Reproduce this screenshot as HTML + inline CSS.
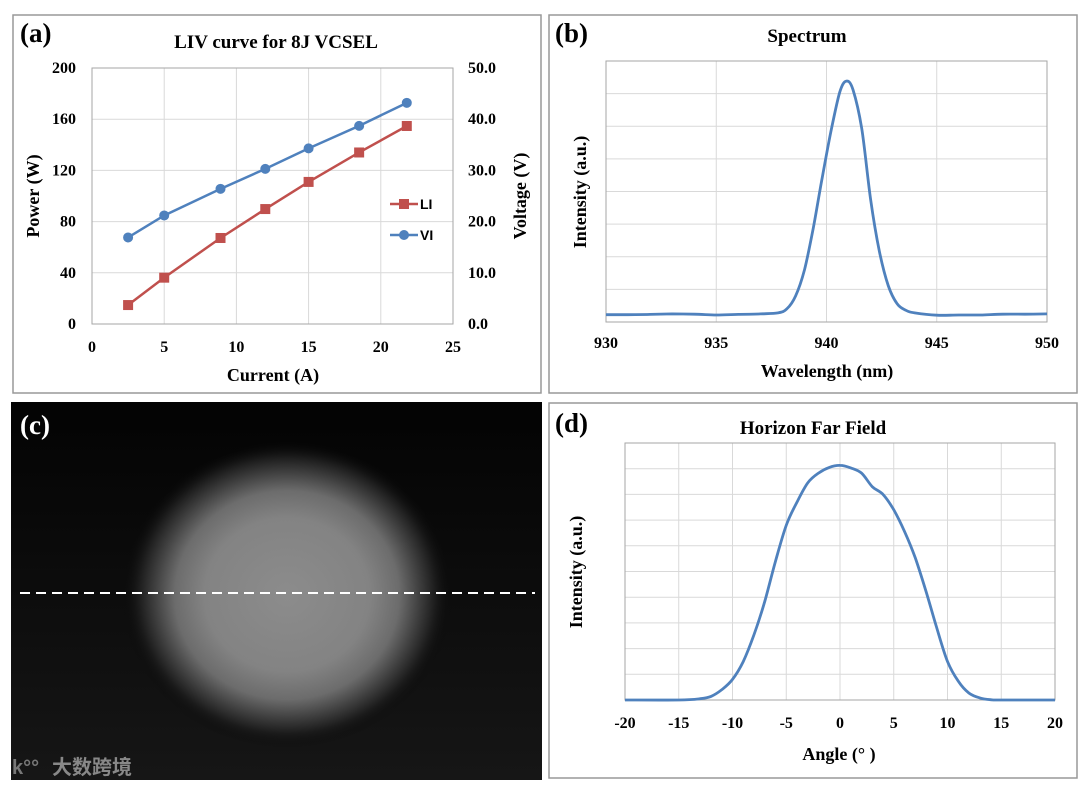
<!DOCTYPE html>
<html><head><meta charset="utf-8"><style>
html,body{margin:0;padding:0;background:#fff;}
svg{display:block;font-family:"Liberation Serif","Noto Serif CJK SC",serif;font-weight:bold;}
</style></head><body>
<svg id="fig" width="1080" height="785" viewBox="0 0 1080 785" xmlns="http://www.w3.org/2000/svg">
<defs>
<radialGradient id="spot" cx="287" cy="595" r="165" gradientUnits="userSpaceOnUse" gradientTransform="translate(287 595) scale(1 0.93) translate(-287 -595)">
<stop offset="0" stop-color="#8c8c8c"/><stop offset="0.5" stop-color="#838383"/><stop offset="0.68" stop-color="#6c6c6c"/><stop offset="0.8" stop-color="#404040"/><stop offset="0.9" stop-color="#1c1c1c"/><stop offset="1" stop-color="#0a0a0a" stop-opacity="0"/>
</radialGradient>
<linearGradient id="bg" x1="0" y1="0" x2="0" y2="1"><stop offset="0" stop-color="#030303"/><stop offset="1" stop-color="#161616"/></linearGradient>
</defs>
<rect x="13" y="15" width="528" height="378" fill="none" stroke="#999" stroke-width="1.5"/>
<rect x="549" y="15" width="528" height="378" fill="none" stroke="#999" stroke-width="1.5"/>
<rect x="549" y="403" width="528" height="375" fill="none" stroke="#999" stroke-width="1.5"/>
<g>
<rect x="11" y="402" width="531" height="378" fill="url(#bg)"/>
<ellipse cx="287" cy="595" rx="170" ry="160" fill="url(#spot)"/>
<line x1="20" y1="593" x2="535" y2="593" stroke="#fff" stroke-width="2" stroke-dasharray="10,6"/>
<text x="20" y="434" fill="#fff" font-size="27">(c)</text>
<text x="12" y="774" fill="#777" font-size="20" font-family="Liberation Sans, sans-serif">k°°</text>
<text x="52" y="774" fill="#888" font-size="20" font-family="'Liberation Sans','Noto Sans CJK SC',sans-serif">大数跨境</text>
</g>
<g id="ga"></g><g id="gb"></g><g id="gd"></g>
</svg>
<script>
// Panel (a) data
const liCurrent = [2.5, 5.0, 8.9, 12.0, 15.0, 18.5, 21.8];
const liPower = [14.8, 36.2, 67.2, 89.8, 111, 134, 154.7];
const viVoltage = [16.9, 21.2, 26.4, 30.3, 34.3, 38.7, 43.2];
const aXTicks = [0, 5, 10, 15, 20, 25];
const aYTicks = [0, 40, 80, 120, 160, 200];
const aY2Ticks = ["0.0", "10.0", "20.0", "30.0", "40.0", "50.0"];
// Panel (b) data
const specWl = [930,931,932,933,934,935,936,937,937.8,938.2,938.6,939,939.4,939.8,940.2,940.6,940.9,941.2,941.6,942,942.4,942.8,943.2,943.6,944,945,946,947,948,949,950];
const specI = [.028,.028,.029,.031,.030,.027,.029,.031,.035,.05,.10,.2,.36,.55,.73,.88,.923,.89,.74,.47,.27,.14,.07,.045,.035,.026,.027,.027,.030,.030,.031];
const bXTicks = [930, 935, 940, 945, 950];
// Panel (d) data
const ffAngle = [-20,-15,-13,-12,-11,-10,-9,-8,-7,-6,-5,-4,-3,-2,-1,0,1,2,3,4,5,6,7,8,9,10,11,12,13,14,15,20];
const ffI = [0,0,.005,.014,.04,.08,.15,.254,.384,.54,.68,.77,.845,.883,.905,.913,.903,.883,.83,.80,.74,.656,.553,.423,.28,.15,.073,.027,.008,.001,0,0];
const dXTicks = [-20,-15,-10,-5,0,5,10,15,20];

const NS = "http://www.w3.org/2000/svg";
function mk(parent, tag, attrs, txt) {
  const e = document.createElementNS(NS, tag);
  for (const k in attrs) e.setAttribute(k, attrs[k]);
  if (txt !== undefined) e.textContent = txt;
  parent.appendChild(e);
  return e;
}
function lin(d0, d1, r0, r1) { return v => r0 + (v - d0) / (d1 - d0) * (r1 - r0); }
function smooth(pts) {
  let d = 'M' + pts[0][0].toFixed(1) + ',' + pts[0][1].toFixed(1);
  for (let i = 0; i < pts.length - 1; i++) {
    const p0 = pts[Math.max(0, i-1)], p1 = pts[i], p2 = pts[i+1], p3 = pts[Math.min(pts.length-1, i+2)];
    const c1x = p1[0] + (p2[0]-p0[0])/6, c1y = p1[1] + (p2[1]-p0[1])/6;
    const c2x = p2[0] - (p3[0]-p1[0])/6, c2y = p2[1] - (p3[1]-p1[1])/6;
    d += ' C' + c1x.toFixed(1)+','+c1y.toFixed(1)+' '+c2x.toFixed(1)+','+c2y.toFixed(1)+' '+p2[0].toFixed(1)+','+p2[1].toFixed(1);
  }
  return d;
}

// ---------- Panel A ----------
(function(){
  const g = document.getElementById('ga');
  const x = lin(0, 25, 92, 453), y = lin(0, 200, 324, 68), y2 = lin(0, 50, 324, 68);
  aXTicks.forEach(t => {
    const l = mk(g, 'line', {x1:x(t), x2:x(t), y1:68, y2:324, stroke:'#d9d9d9', 'stroke-width':1});
    
    
    const tx = mk(g, 'text', {x:x(t), y:352, 'font-size':16, 'text-anchor':'middle'}, t);
    
    
  });
  aYTicks.forEach((t, i) => {
    const l = mk(g, 'line', {x1:92, x2:453, y1:y(t), y2:y(t), stroke:'#d9d9d9', 'stroke-width':1});
    
    
    const tx = mk(g, 'text', {x:76, y:y(t)+5, 'font-size':16, 'text-anchor':'end'}, t);
    
    
    const tx2 = mk(g, 'text', {x:468, y:y2(i*10)+5, 'font-size':16}, aY2Ticks[i]);
    
    
  });
  const fr = mk(g, 'rect', {x:92, y:68, width:361, height:256, fill:'none', stroke:'#a6a6a6', 'stroke-width':1});
  
  
  const vi = mk(g, 'polyline', {points: liCurrent.map((c,i)=>x(c)+','+y2(viVoltage[i])).join(' '), fill:'none', stroke:'#4f81bd', 'stroke-width':2.5});
  
  
  const li = mk(g, 'polyline', {points: liCurrent.map((c,i)=>x(c)+','+y(liPower[i])).join(' '), fill:'none', stroke:'#c0504d', 'stroke-width':2.5});
  
  
  liCurrent.forEach((c,i) => {
    const m = mk(g, 'circle', {cx:x(c), cy:y2(viVoltage[i]), r:5, fill:'#4f81bd'});
    
    
    const s = mk(g, 'rect', {x:x(c)-5, y:y(liPower[i])-5, width:10, height:10, fill:'#c0504d'});
    
    
  });
  const lg1 = mk(g, 'g', {});
  
  
  mk(lg1, 'line', {x1:390, x2:418, y1:204, y2:204, stroke:'#c0504d', 'stroke-width':2.5});
  mk(lg1, 'rect', {x:399, y:199, width:10, height:10, fill:'#c0504d'});
  mk(lg1, 'text', {x:420, y:209, 'font-size':14, 'font-family':'Liberation Sans, sans-serif'}, 'LI');
  const lg2 = mk(g, 'g', {});
  
  
  mk(lg2, 'line', {x1:390, x2:418, y1:235, y2:235, stroke:'#4f81bd', 'stroke-width':2.5});
  mk(lg2, 'circle', {cx:404, cy:235, r:5, fill:'#4f81bd'});
  mk(lg2, 'text', {x:420, y:240, 'font-size':14, 'font-family':'Liberation Sans, sans-serif'}, 'VI');
  const t1 = mk(g, 'text', {x:276, y:48, 'font-size':19, 'text-anchor':'middle'}, 'LIV curve for 8J VCSEL');
  
  
  const t2 = mk(g, 'text', {x:20, y:42, 'font-size':27}, '(a)');
  
  
  const t3 = mk(g, 'text', {x:273, y:381, 'font-size':18, 'text-anchor':'middle'}, 'Current (A)');
  
  
  const t4 = mk(g, 'text', {x:0, y:0, 'font-size':18, 'text-anchor':'middle', transform:'translate(39,196) rotate(-90)'}, 'Power (W)');
  
  
  const t5 = mk(g, 'text', {x:0, y:0, 'font-size':18, 'text-anchor':'middle', transform:'translate(526,196) rotate(-90)'}, 'Voltage (V)');
  
  
})();

// ---------- Panel B ----------
(function(){
  const g = document.getElementById('gb');
  const x = lin(930, 950, 606, 1047), y = lin(0, 1, 322, 61);
  for (let i = 0; i <= 8; i++) {
    const yy = 322 - i * 261 / 8;
    const l = mk(g, 'line', {x1:606, x2:1047, y1:yy, y2:yy, stroke:'#d9d9d9', 'stroke-width':1});
    
    
  }
  bXTicks.forEach(t => {
    const l = mk(g, 'line', {x1:x(t), x2:x(t), y1:61, y2:322, stroke:'#d9d9d9', 'stroke-width':1});
    
    
    const tx = mk(g, 'text', {x:x(t), y:348, 'font-size':16, 'text-anchor':'middle'}, t);
    
    
  });
  const fr = mk(g, 'rect', {x:606, y:61, width:441, height:261, fill:'none', stroke:'#a6a6a6', 'stroke-width':1});
  
  
  const p = mk(g, 'path', {d: smooth(specWl.map((w,i)=>[x(w), y(specI[i])])), fill:'none', stroke:'#4f81bd', 'stroke-width':2.8, 'stroke-linejoin':'round'});
  
  
  const t1 = mk(g, 'text', {x:807, y:42, 'font-size':19, 'text-anchor':'middle'}, 'Spectrum');
  
  
  const t2 = mk(g, 'text', {x:555, y:42, 'font-size':27}, '(b)');
  
  
  const t3 = mk(g, 'text', {x:827, y:377, 'font-size':18, 'text-anchor':'middle'}, 'Wavelength (nm)');
  
  
  const t4 = mk(g, 'text', {x:0, y:0, 'font-size':18, 'text-anchor':'middle', transform:'translate(586,192) rotate(-90)'}, 'Intensity (a.u.)');
  
  
})();

// ---------- Panel D ----------
(function(){
  const g = document.getElementById('gd');
  const x = lin(-20, 20, 625, 1055), y = lin(0, 1, 700, 443);
  for (let i = 0; i <= 10; i++) {
    const yy = 700 - i * 257 / 10;
    const l = mk(g, 'line', {x1:625, x2:1055, y1:yy, y2:yy, stroke:'#d9d9d9', 'stroke-width':1});
    
    
  }
  dXTicks.forEach(t => {
    const l = mk(g, 'line', {x1:x(t), x2:x(t), y1:443, y2:700, stroke:'#d9d9d9', 'stroke-width':1});
    
    
    const tx = mk(g, 'text', {x:x(t), y:728, 'font-size':16, 'text-anchor':'middle'}, t);
    
    
  });
  const fr = mk(g, 'rect', {x:625, y:443, width:430, height:257, fill:'none', stroke:'#a6a6a6', 'stroke-width':1});
  
  
  const p = mk(g, 'path', {d: smooth(ffAngle.map((a,i)=>[x(a), y(ffI[i])])), fill:'none', stroke:'#4f81bd', 'stroke-width':2.8, 'stroke-linejoin':'round'});
  
  
  const t1 = mk(g, 'text', {x:813, y:434, 'font-size':19, 'text-anchor':'middle'}, 'Horizon Far Field');
  
  
  const t2 = mk(g, 'text', {x:555, y:432, 'font-size':27}, '(d)');
  
  
  const t3 = mk(g, 'text', {x:839, y:760, 'font-size':18, 'text-anchor':'middle'}, 'Angle (°  )');
  
  
  const t4 = mk(g, 'text', {x:0, y:0, 'font-size':18, 'text-anchor':'middle', transform:'translate(582,572) rotate(-90)'}, 'Intensity (a.u.)');
  
  
})();
</script>
</body></html>
